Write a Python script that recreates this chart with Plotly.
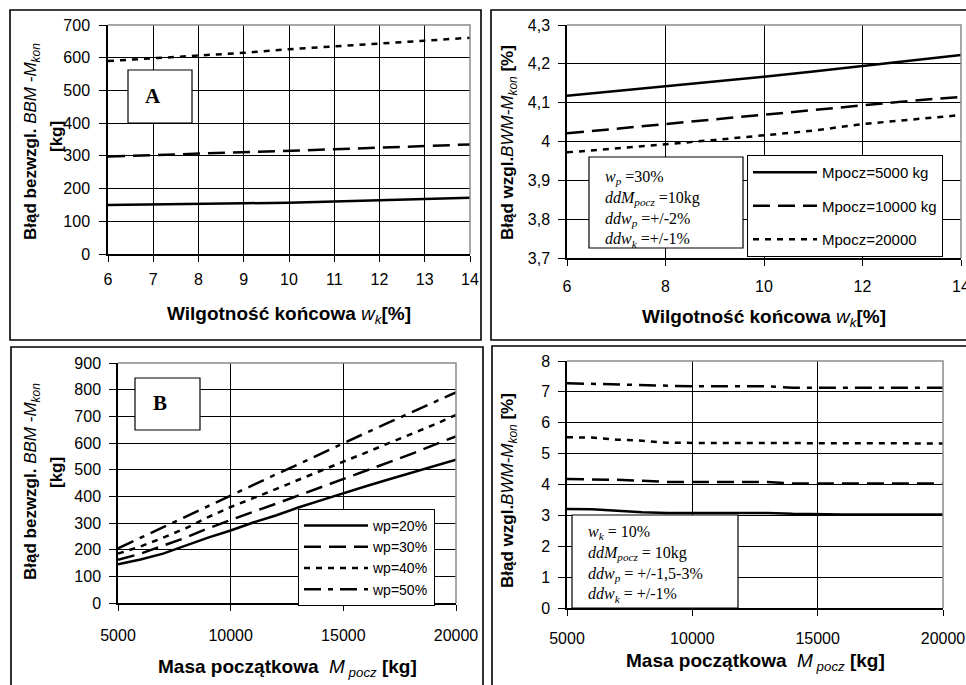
import plotly.graph_objects as go

W, H = 966, 685

# ---------------- data ----------------
# Panel A (top-left): absolute error vs final moisture
wk = [6, 7, 8, 9, 10, 11, 12, 13, 14]
bbm_m5000 = [150, 151, 153, 155, 157, 160, 164, 168, 172]
bbm_m10000 = [298, 302, 306, 310, 315, 320, 325, 330, 335]
bbm_m20000 = [590, 598, 607, 615, 626, 634, 644, 652, 661]

# Top-right: relative error vs final moisture
bwm_m5000 = [4.118, 4.130, 4.143, 4.155, 4.167, 4.180, 4.194, 4.208, 4.223]
bwm_m10000 = [4.021, 4.033, 4.045, 4.056, 4.068, 4.081, 4.094, 4.105, 4.115]
bwm_m20000 = [3.972, 3.982, 3.993, 4.004, 4.016, 4.028, 4.045, 4.056, 4.068]
tr_names = ["Mpocz=5000 kg", "Mpocz=10000 kg", "Mpocz=20000"]
tr_ytick_vals = [3.7, 3.8, 3.9, 4.0, 4.1, 4.2, 4.3]
tr_ytick_text = ["3,7", "3,8", "3,9", "4", "4,1", "4,2", "4,3"]

# Panel B (bottom-left): absolute error vs initial mass
mp = [5000, 6000, 7000, 8000, 9000, 10000, 11000, 12000, 13000,
      14000, 15000, 16000, 17000, 18000, 19000, 20000]
bbm_wp20 = [145, 163, 185, 215, 245, 272, 302, 328, 358, 385, 412, 438, 463, 488, 512, 537]
bbm_wp30 = [162, 185, 215, 245, 280, 312, 342, 372, 403, 435, 467, 497, 530, 558, 592, 625]
bbm_wp40 = [185, 212, 245, 280, 322, 360, 393, 428, 462, 497, 530, 564, 598, 634, 668, 705]
bbm_wp50 = [205, 245, 285, 325, 362, 402, 442, 482, 520, 560, 600, 638, 676, 714, 752, 790]
bl_names = ["wp=20%", "wp=30%", "wp=40%", "wp=50%"]

# Bottom-right: relative error vs initial mass
bwm_wp20 = [3.21, 3.20, 3.15, 3.10, 3.08, 3.08, 3.08, 3.08, 3.08, 3.05, 3.03, 3.03, 3.03, 3.03, 3.03, 3.03]
bwm_wp30 = [4.18, 4.17, 4.15, 4.12, 4.08, 4.08, 4.08, 4.08, 4.08, 4.03, 4.03, 4.03, 4.03, 4.03, 4.03, 4.03]
bwm_wp40 = [5.53, 5.52, 5.45, 5.42, 5.35, 5.35, 5.35, 5.35, 5.34, 5.33, 5.33, 5.33, 5.33, 5.33, 5.33, 5.33]
bwm_wp50 = [7.28, 7.26, 7.24, 7.20, 7.18, 7.18, 7.18, 7.18, 7.18, 7.13, 7.13, 7.13, 7.13, 7.13, 7.13, 7.13]

# ---------------- helpers ----------------
def PX(x):
    return min(max(x / W, 0.0), 1.0)


def PY(y):
    return min(max(1 - y / H, 0.0), 1.0)


SANS = "Liberation Sans, Arial, sans-serif"
SERIF = "Liberation Serif, Times New Roman, serif"
LW = 2.5
DASH = "17px,8px"
DOT = "6px,6px"
DASHDOT = "17px,7px,5px,7px"

fig = go.Figure()


def add(x, y, xa, ya, dash, name=None, legend=None):
    kw = dict(x=x, y=y, xaxis=xa, yaxis=ya, mode="lines",
              line=dict(color="black", width=LW, dash=dash),
              name=name or "", showlegend=legend is not None,
              hoverinfo="skip")
    if legend is not None:
        kw["legend"] = legend
        kw["legendgroup"] = name
    fig.add_trace(go.Scatter(**kw))


# top-left
add(wk, bbm_m5000, "x", "y", "solid")
add(wk, bbm_m10000, "x", "y", DASH)
add(wk, bbm_m20000, "x", "y", DOT)
# top-right
add(wk, bwm_m5000, "x2", "y2", "solid", tr_names[0], "legend")
add(wk, bwm_m10000, "x2", "y2", DASH, tr_names[1], "legend")
add(wk, bwm_m20000, "x2", "y2", DOT, tr_names[2], "legend")
# bottom-left
add(mp, bbm_wp20, "x3", "y3", "solid", bl_names[0], "legend2")
add(mp, bbm_wp30, "x3", "y3", DASH, bl_names[1], "legend2")
add(mp, bbm_wp40, "x3", "y3", DOT, bl_names[2], "legend2")
add(mp, bbm_wp50, "x3", "y3", DASHDOT, bl_names[3], "legend2")
# bottom-right
add(mp, bwm_wp20, "x4", "y4", "solid")
add(mp, bwm_wp30, "x4", "y4", DASH)
add(mp, bwm_wp40, "x4", "y4", DOT)
add(mp, bwm_wp50, "x4", "y4", DASHDOT)


def axis(domain, rng, anchor, **kw):
    d = dict(domain=domain, range=rng, anchor=anchor, automargin=False,
             ticklabeloverflow="allow",
             showline=True, linecolor="black", linewidth=1.5,
             ticks="outside", tickcolor="black", tickwidth=1,
             showgrid=True, gridcolor="black", gridwidth=1,
             zeroline=False, tickfont=dict(family=SANS, size=16, color="black"),
             fixedrange=True)
    d.update(kw)
    return d


fig.update_layout(
    width=W, height=H, autosize=False,
    margin=dict(l=0, r=0, t=0, b=0, autoexpand=False),
    paper_bgcolor="white", plot_bgcolor="white",
    font=dict(family=SANS, color="black"),
    xaxis=axis([PX(108), PX(470)], [6, 14], "y", dtick=1, ticklen=6, ticklabelstandoff=4),
    yaxis=axis([PY(254), PY(25)], [0, 700], "x", dtick=100, ticklen=7, ticklabelstandoff=6),
    xaxis2=axis([PX(567), PX(961)], [6, 14], "y2", dtick=2, ticklen=6, ticklabelstandoff=7),
    yaxis2=axis([PY(258), PY(25)], [3.7, 4.3], "x2", tickvals=tr_ytick_vals,
                ticktext=tr_ytick_text, ticklen=7, ticklabelstandoff=5),
    xaxis3=axis([PX(118), PX(456)], [5000, 20000], "y3", dtick=5000, tickformat="d",
                ticklen=6, ticklabelstandoff=11),
    yaxis3=axis([PY(603), PY(363)], [0, 900], "x3", dtick=100, ticklen=7, ticklabelstandoff=5),
    xaxis4=axis([PX(567), PX(943)], [5000, 20000], "y4", dtick=5000, tickformat="d",
                ticklen=6, ticklabelstandoff=9),
    yaxis4=axis([PY(608), PY(361)], [0, 8], "x4", dtick=1, ticklen=7, ticklabelstandoff=5),
    legend=dict(x=PX(747), y=PY(155), xanchor="left", yanchor="top",
                bgcolor="white", bordercolor="black", borderwidth=1,
                font=dict(family=SANS, size=15, color="black"),
                itemwidth=64, tracegroupgap=11),
    legend2=dict(x=PX(298), y=PY(509), xanchor="left", yanchor="top",
                 bgcolor="white", bordercolor="black", borderwidth=1,
                 font=dict(family=SANS, size=14, color="black"),
                 itemwidth=64, tracegroupgap=0),
)

shapes = []


def frame(path_pts, closed):
    d = "M " + " L ".join(f"{PX(x)},{PY(y)}" for x, y in path_pts)
    if closed:
        d += " Z"
    shapes.append(dict(type="path", xref="paper", yref="paper", path=d,
                       line=dict(color="black", width=1.6), layer="below"))


# panel frames (right and bottom panels run off the picture edge)
frame([(10, 10), (481, 10), (481, 340), (10, 340)], True)
frame([(966, 10), (491, 10), (491, 340), (966, 340)], False)
frame([(11, 685), (11, 347), (483, 347), (483, 685)], False)
frame([(492, 685), (492, 346), (966, 346)], False)

# gray top/right borders of the plot areas
for (l, t, r, b) in [(108, 25, 470, 254), (567, 25, 961, 258),
                     (118, 363, 456, 603), (567, 361, 943, 608)]:
    shapes.append(dict(type="path", xref="paper", yref="paper",
                       path=f"M {PX(l)},{PY(t)} L {PX(r)},{PY(t)} L {PX(r)},{PY(b)}",
                       line=dict(color="#8a8a8a", width=1.5), layer="above"))
# label boxes (white filled)
for x0, y0, x1, y1 in [(128, 70, 192, 123), (135, 378, 200, 430),
                       (589, 157, 743, 248), (572, 515, 738, 608)]:
    shapes.append(dict(type="rect", xref="paper", yref="paper",
                       x0=PX(x0), x1=PX(x1), y0=PY(y1), y1=PY(y0),
                       fillcolor="white", line=dict(color="black", width=1.2),
                       layer="above"))
fig.update_layout(shapes=shapes)

ann = []


def note(x, y, text, size=16, angle=0, family=SANS, xanchor="center", yanchor="middle", align="center"):
    ann.append(dict(x=PX(x), y=PY(y), xref="paper", yref="paper", text=text,
                    showarrow=False, textangle=angle, xanchor=xanchor, yanchor=yanchor,
                    align=align, font=dict(family=family, size=size, color="black")))


# axis titles
yt_abs = "<b>Błąd bezwzgl. </b><i>BBM -M</i><sub><i>kon</i></sub>"
yt_rel = "<b>Błąd wzgl.</b><i>BWM-M</i><sub><i>kon</i></sub><b> [%]</b>"
xt_wk = "<b>Wilgotność końcowa </b><i>w</i><sub><i>k</i></sub><b>[%]</b>"
xt_mp = "<b>Masa początkowa  </b><i>M</i><sub><i> pocz</i></sub><b> [kg]</b>"

note(32, 142, yt_abs, 17, -90)
note(57, 137, "<b>[kg]</b>", 17, -90)
note(509, 143, yt_rel, 17, -90)
note(32, 482, yt_abs, 17, -90)
note(57, 473, "<b>[kg]</b>", 17, -90)
note(509, 491, yt_rel, 17, -90)
note(289, 315, xt_wk, 19)
note(764, 318, xt_wk, 19)
note(287, 668, xt_mp, 19)
note(755, 662, xt_mp, 19)

# panel letters
note(153, 96, "<b>A</b>", 21, family=SERIF)
note(160, 403, "<b>B</b>", 21, family=SERIF)

# parameter boxes
note(603, 166,
     "<i>w</i><sub><i>p</i></sub> =30%<br>"
     "<i>ddM</i><sub><i>pocz</i></sub> =10kg<br>"
     "<i>ddw</i><sub><i>p</i></sub> =+/-2%<br>"
     "<i>ddw</i><sub><i>k</i></sub> =+/-1%",
     16, family=SERIF, xanchor="left", yanchor="top", align="left")
note(586, 521,
     "<i>w</i><sub><i>k</i></sub> = 10%<br>"
     "<i>ddM</i><sub><i>pocz</i></sub> = 10kg<br>"
     "<i>ddw</i><sub><i>p</i></sub> = +/-1,5-3%<br>"
     "<i>ddw</i><sub><i>k</i></sub> = +/-1%",
     16, family=SERIF, xanchor="left", yanchor="top", align="left")

fig.update_layout(annotations=ann)

fig.write_html(
    "out.html",
    config={"displayModeBar": False, "responsive": False},
    post_script=("document.body.style.margin='0';"
                 "document.body.style.overflow='hidden';"
                 "document.documentElement.style.overflow='hidden';"),
)
